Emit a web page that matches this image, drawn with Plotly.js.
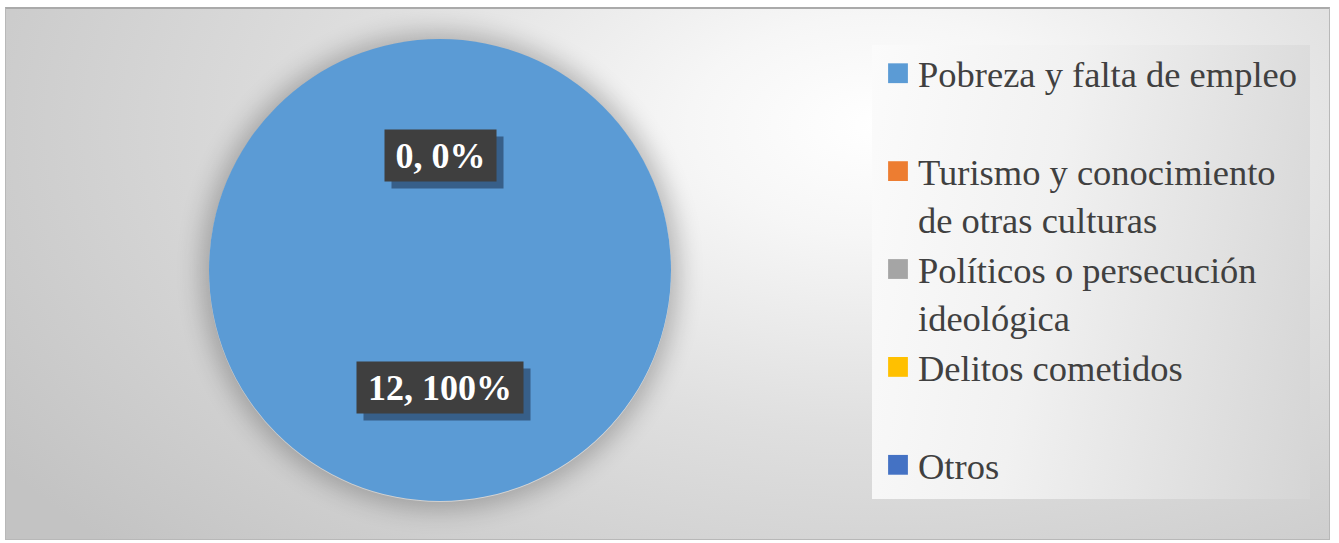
<!DOCTYPE html>
<html>
<head>
<meta charset="utf-8">
<script src="https://cdn.plot.ly/plotly-3.0.1.min.js"></script>
<style>
  html, body { margin: 0; padding: 0; background: #ffffff; width: 1339px; height: 543px; overflow: hidden; }
  #bg { position: absolute; left: 5px; top: 7px; width: 1323px; height: 530px;
        border: 1px solid #b8b8b8; border-top: 2px solid #aaaaaa;
        background: radial-gradient(ellipse 80% 115% at 66% 22%, #ffffff 0%, #f6f6f6 18%, #dfdfdf 50%, #c3c3c3 100%); }
  #halo { position: absolute; left: 209px; top: 40px; width: 462px; height: 462px; border-radius: 50%;
          box-shadow: 0 0 24px 8px rgba(0,0,0,0.24); }
  #legbox { position: absolute; left: 872px; top: 45px; width: 438px; height: 454px;
            background: linear-gradient(100deg, #fbfbfb 0%, #f1f1f1 40%, #d5d5d5 100%); }
  #chart { position: absolute; left: 0; top: 0; width: 1339px; height: 543px; }
</style>
</head>
<body>
<div id="bg"></div>
<div id="halo"></div>
<div id="legbox"></div>
<div id="chart"></div>
<script>
const categories = [
  "Pobreza y falta de empleo",
  "Turismo y conocimiento<br>de otras culturas",
  "Políticos o persecución<br>ideológica",
  "Delitos cometidos",
  "Otros"
];
const values = [12, 0, 0, 0, 0];
const colors = ["#5B9BD5", "#ED7D31", "#A5A5A5", "#FFC000", "#4472C4"];

// pad single-line legend labels to two lines so every entry has equal height
const legendLabels = categories.map(c => c.includes("<br>") ? c : c + "<br>\u00a0");

const total = values.reduce((a, b) => a + b, 0);
const labelText = v => v + ", " + Math.round(v / total * 100) + "%";

const W = 1339, H = 543;
const labelFont = { family: "Liberation Serif", size: 36, color: "#ffffff" };

function boxed(text, x, y, w) {
  const common = { x: x, y: y, xref: "paper", yref: "paper", showarrow: false,
                   xanchor: "center", yanchor: "middle", width: w, height: 45, borderpad: 3 };
  return [
    // drop shadow box (no text)
    Object.assign({}, common, { text: "\u00a0", xshift: 7, yshift: -7,
      bgcolor: "rgba(25,45,75,0.55)", font: labelFont }),
    Object.assign({}, common, { text: "<b>" + text + "</b>", bgcolor: "#3f3f3f", font: labelFont })
  ];
}

const annotations = []
  .concat(boxed(labelText(values[1]), 440 / W, 1 - 156 / H, 105))
  .concat(boxed(labelText(values[0]), 440 / W, 1 - 387 / H, 160));

const trace = {
  type: "pie",
  labels: legendLabels,
  values: values,
  sort: false,
  direction: "clockwise",
  rotation: 0,
  textinfo: "none",
  hoverinfo: "label+value+percent",
  marker: { colors: colors, line: { width: 0 } },
  domain: { x: [209 / W, 671 / W], y: [1 - 501 / H, 1 - 39 / H] },
  showlegend: true
};

const layout = {
  width: W, height: H,
  margin: { l: 0, r: 0, t: 0, b: 0 },
  paper_bgcolor: "rgba(0,0,0,0)",
  plot_bgcolor: "rgba(0,0,0,0)",
  showlegend: true,
  legend: {
    x: 878 / W, xanchor: "left",
    y: 1 - 44 / H, yanchor: "top",
    bgcolor: "rgba(0,0,0,0)", borderwidth: 0,
    valign: "top",
    traceorder: "normal",
    font: { family: "Liberation Serif", size: 36.5, color: "#404040" }
  },
  annotations: annotations
};

function enlargeLegendSymbols() {
  document.querySelectorAll("#chart path.legendpie").forEach(p => {
    const t = p.getAttribute("transform") || "";
    if (!t.includes("scale")) p.setAttribute("transform", (t + " scale(1.65)").trim());
  });
}

Plotly.newPlot("chart", [trace], layout, { displayModeBar: false, staticPlot: true })
  .then(enlargeLegendSymbols);
</script>
</body>
</html>
